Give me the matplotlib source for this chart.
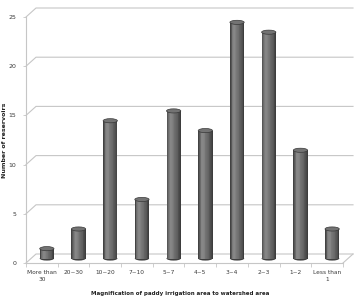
import matplotlib
matplotlib.use("Agg")
import matplotlib.pyplot as plt
import numpy as np
from matplotlib.patches import Ellipse, Rectangle
from matplotlib.transforms import ScaledTranslation

categories = ["More than\n30", "20~30", "10~20", "7~10", "5~7", "4~5",
              "3~4", "2~3", "1~2", "Less than\n1"]
counts = [1, 3, 14, 6, 15, 13, 24, 23, 11, 3]
y_ticks = [0, 5, 10, 15, 20, 25]

GRID = "#c6c6c6"
TEXT = "#3a3a3a"

fig = plt.figure(figsize=(3.57, 2.98), dpi=100)
ax = fig.add_axes([26 / 357, 35 / 298, 317 / 357, 246 / 298])
ax.set_xlim(-0.5, len(categories) - 0.5)
ax.set_ylim(0, 25)

# depth offsets (inches at 100 dpi)
back = ax.transData + ScaledTranslation(0.10, 0.09, fig.dpi_scale_trans)
mid = ax.transData + ScaledTranslation(0.05, 0.045, fig.dpi_scale_trans)

# side wall diagonals and back wall gridlines
x0, x1 = -0.5, len(categories) - 0.5
inv = ax.transData.inverted()
for y in y_ticks:
    pts = inv.transform([ax.transData.transform((x0, y)),
                         back.transform((x0, y)),
                         back.transform((x1, y))])
    ax.plot(pts[:, 0], pts[:, 1], color=GRID, lw=0.8, clip_on=False, zorder=1)

# right edge of the floor
pts = inv.transform([ax.transData.transform((x1, 0)), back.transform((x1, 0))])
ax.plot(pts[:, 0], pts[:, 1], color=GRID, lw=0.8, clip_on=False, zorder=1)

# cylinders
w = 0.45
profile = np.array([0.26, 0.34, 0.42, 0.48, 0.52, 0.53, 0.52, 0.50, 0.47,
                    0.45, 0.43, 0.41, 0.39, 0.37, 0.34, 0.31, 0.28, 0.24])
n_slices = len(profile)
cap_h = 0.42
for i, v in enumerate(counts):
    ax.add_patch(Ellipse((i, 0), w, cap_h, transform=mid, facecolor="#3e3e3e",
                         edgecolor="none", clip_on=False, zorder=2))
    sw = w / n_slices
    for k in range(n_slices):
        g = profile[k]
        ax.add_patch(Rectangle((i - w / 2 + k * sw, 0), sw * 1.05, v,
                               transform=mid, facecolor=(g, g, g),
                               edgecolor="none", clip_on=False, zorder=3))
    ax.add_patch(Ellipse((i, v), w, cap_h, transform=mid, facecolor="#737373",
                         edgecolor="#383838", lw=0.5, clip_on=False, zorder=4))

ax.spines[["top", "right"]].set_visible(False)
ax.spines["left"].set_color(GRID)
ax.spines["bottom"].set_color(GRID)
ax.spines["left"].set_linewidth(0.8)
ax.spines["bottom"].set_linewidth(0.8)
ax.set_facecolor("none")

ax.set_yticks(y_ticks)
ax.set_yticklabels([str(t) for t in y_ticks], fontsize=4.5, color=TEXT)
ax.tick_params(axis="y", length=2, width=0.6, color=GRID, pad=5)

ax.set_xticks(range(len(categories)))
ax.set_xticklabels(categories, fontsize=4.2, color=TEXT, linespacing=1.5)
ax.set_xticks(np.arange(-0.5, len(categories), 1.0), minor=True)
ax.tick_params(axis="x", which="major", length=0, pad=5)
ax.tick_params(axis="x", which="minor", length=3, width=0.6, color=GRID)

fig.text(180.5 / 357, 1 - 293 / 298,
         "Magnification of paddy irrigation area to watershed area",
         ha="center", va="center", fontsize=3.95, fontweight="bold", color="#222222")
fig.text(5 / 357, 1 - 140 / 298, "Number of reservoirs", rotation=90,
         ha="center", va="center", fontsize=4.5, fontweight="bold", color="#222222")

fig.savefig("out.png", dpi=100)
